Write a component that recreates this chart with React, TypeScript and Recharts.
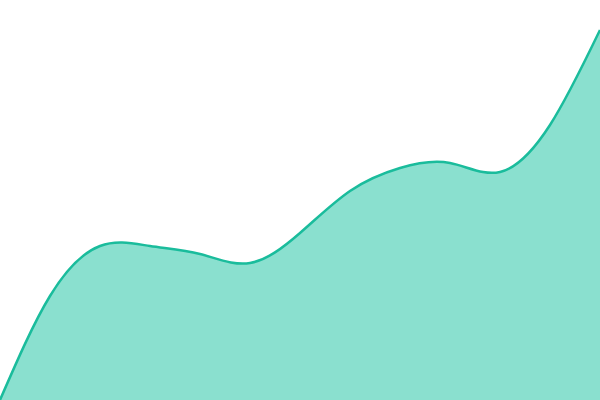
import { AreaChart, Area, XAxis, YAxis } from "recharts";

// evenly spaced samples across the width, values measured up from the baseline
const steps = ["0", "1", "2", "3", "4", "5", "6", "7", "8", "9", "10", "11", "12"];
const values = [0, 104, 154, 154, 146, 137, 167, 209, 232, 237, 228, 275, 370];

const data = steps.map((step, i) => ({ step, value: values[i] }));

export default function App() {
  return (
    <div style={{ position: "absolute", top: 0, left: 0, width: 600, height: 400 }}>
      <AreaChart
        width={600}
        height={400}
        data={data}
        margin={{ top: 0, right: 0, left: 0, bottom: 0 }}
      >
        <XAxis dataKey="step" hide />
        <YAxis hide domain={[0, 400]} />
        <Area
          type="natural"
          dataKey="value"
          stroke="#1abc9c"
          strokeWidth={2.5}
          fill="#8ae0cf"
          fillOpacity={1}
          activeDot={false}
          isAnimationActive={false}
        />
      </AreaChart>
    </div>
  );
}
